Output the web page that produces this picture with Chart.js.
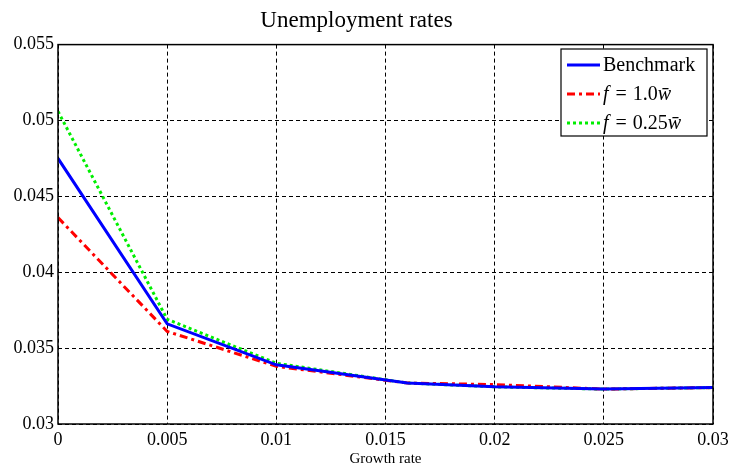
<!DOCTYPE html>
<html>
<head>
<meta charset="utf-8">
<script src="https://cdn.jsdelivr.net/npm/chart.js@4.4.1/dist/chart.umd.min.js"></script>
<style>
  html, body { margin: 0; padding: 0; background: #fff; }
  #wrap { width: 730px; height: 471px; }
</style>
</head>
<body>
<div id="wrap"><canvas id="myChart" width="730" height="471"></canvas></div>
<script>
// data
const growth = [0, 0.005, 0.01, 0.016, 0.02, 0.025, 0.03];
const benchmark = [0.0475, 0.0366, 0.0339, 0.0327, 0.03245, 0.0323, 0.0324];
const f10 = [0.0436, 0.0361, 0.0338, 0.0327, 0.0326, 0.0323, 0.0324];
const f025 = [0.0506, 0.0369, 0.0340, 0.0327, 0.03245, 0.0323, 0.0324];

const xTickLabels = ['0', '0.005', '0.01', '0.015', '0.02', '0.025', '0.03'];
const yTickLabels = ['0.03', '0.035', '0.04', '0.045', '0.05', '0.055'];

const serif = "'Liberation Serif', 'DejaVu Serif', serif";

function pts(ys) {
    return growth.map((g, i) => ({x: g, y: ys[i]}));
}

// frame + legend box like matlab
const framePlugin = {
    id: 'frame',
    afterDatasetsDraw(chart) {
        const {ctx, chartArea: a} = chart;
        ctx.save();
        ctx.strokeStyle = '#000';
        ctx.lineWidth = 1.5;
        ctx.setLineDash([]);
        ctx.strokeRect(a.left, a.top, a.right - a.left, a.bottom - a.top);

        // legend
        const bx = 561, by = 49, bw = 146, bh = 87;
        ctx.fillStyle = '#fff';
        ctx.fillRect(bx, by, bw, bh);
        ctx.lineWidth = 1.2;
        ctx.strokeRect(bx, by, bw, bh);
        // [text, font style, gap after]
        const rows = [
            {ds: chart.data.datasets[0], parts: [['Benchmark', '', 0]]},
            {ds: chart.data.datasets[1], parts: [['f', 'italic ', 7], ['=', '', 6], ['1.0', '', 0], ['w\u0304', 'italic ', 0]]},
            {ds: chart.data.datasets[2], parts: [['f', 'italic ', 7], ['=', '', 6], ['0.25', '', 0], ['w\u0304', 'italic ', 0]]}
        ];
        rows.forEach((r, i) => {
            const y = by + 16 + i * 29;
            ctx.strokeStyle = r.ds.borderColor;
            ctx.lineWidth = r.ds.borderWidth;
            ctx.setLineDash(r.ds.borderDash || []);
            ctx.beginPath();
            ctx.moveTo(567, y);
            ctx.lineTo(600, y);
            ctx.stroke();
            ctx.setLineDash([]);
            ctx.fillStyle = '#000';
            ctx.textBaseline = 'middle';
            let x = 603;
            r.parts.forEach(p => {
                ctx.font = p[1] + '20px ' + serif;
                ctx.fillText(p[0], x, y + 1);
                x += ctx.measureText(p[0]).width + p[2];
            });
        });
        ctx.restore();
    }
};

const ctx = document.getElementById('myChart').getContext('2d');
const chart = new Chart(ctx, {
    type: 'line',
    data: {
        datasets: [
            {label: 'Benchmark', data: pts(benchmark), borderColor: '#0000ff', borderWidth: 3, borderDash: []},
            {label: 'f = 1.0w', data: pts(f10), borderColor: '#ff0000', borderWidth: 3, borderDash: [8, 4, 3, 4]},
            {label: 'f = 0.25w', data: pts(f025), borderColor: '#00ee00', borderWidth: 3, borderDash: [3, 3]}
        ]
    },
    options: {
        responsive: false,
        animation: false,
        layout: {padding: {left: 0, right: 17, top: 0, bottom: 0}},
        elements: {point: {radius: 0}, line: {tension: 0}},
        plugins: {
            legend: {display: false},
            tooltip: {enabled: false},
            title: {
                display: true,
                text: 'Unemployment rates',
                color: '#000',
                font: {family: serif, size: 23, weight: 'normal'},
                padding: {top: 7, bottom: 10}
            }
        },
        scales: {
            x: {
                type: 'linear',
                min: 0, max: 0.03,
                afterFit: s => { s.height = 47; s.paddingRight = 0; s.paddingLeft = 0; },
                ticks: {
                    stepSize: 0.005,
                    color: '#000',
                    font: {family: serif, size: 18},
                    padding: 5,
                    maxRotation: 0,
                    callback: (v, i) => xTickLabels[i]
                },
                grid: {color: '#000', lineWidth: 1, drawTicks: false},
                border: {dash: [4, 3], display: false},
                title: {
                    display: true, text: 'Growth rate', color: '#000',
                    font: {family: serif, size: 15}, padding: {top: 0, bottom: 3}
                }
            },
            y: {
                min: 0.03, max: 0.055,
                afterFit: s => { s.width = 58; },
                ticks: {
                    stepSize: 0.005,
                    color: '#000',
                    font: {family: serif, size: 18},
                    padding: 4,
                    callback: (v, i) => yTickLabels[i]
                },
                grid: {color: '#000', lineWidth: 1, drawTicks: false},
                border: {dash: [4, 3], display: false}
            }
        }
    },
    plugins: [framePlugin]
});
</script>
</body>
</html>
